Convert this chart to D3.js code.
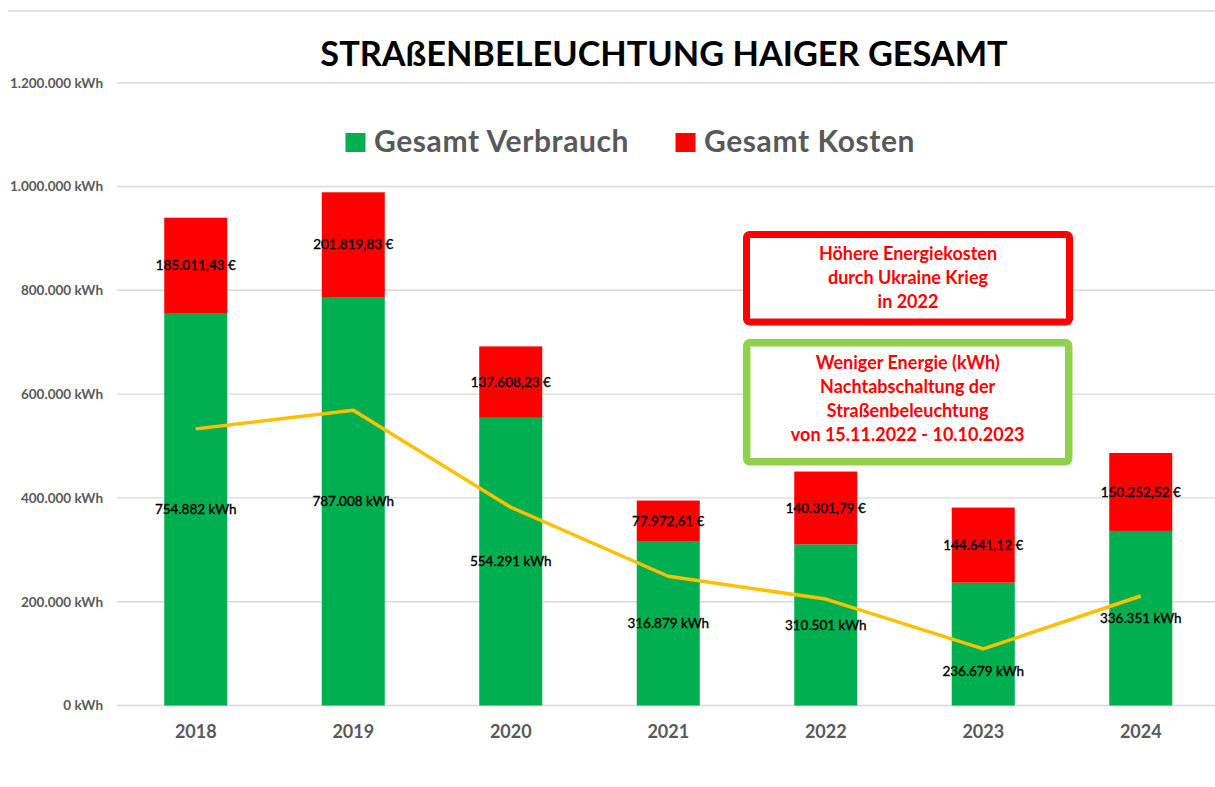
<!DOCTYPE html>
<html>
<head>
<meta charset="utf-8">
<script src="https://cdn.jsdelivr.net/npm/d3@7"></script>
<style>
  html, body { margin: 0; padding: 0; background: #fff; }
  svg { display: block; font-family: Lato, "Open Sans", sans-serif; }
</style>
</head>
<body>
<svg id="chart" width="1215" height="787"></svg>
<script>
// ---- data ----
const years = ["2018", "2019", "2020", "2021", "2022", "2023", "2024"];
const verbrauch = [754882, 787008, 554291, 316879, 310501, 236679, 336351];
const kosten = [185011.43, 201819.83, 137608.23, 77972.61, 140301.79, 144641.12, 150252.52];
const trend = [533000, 569000, 382000, 249000, 205000, 109000, 211000];
const yTicks = [0, 200000, 400000, 600000, 800000, 1000000, 1200000];
const seriesNames = ["Gesamt Verbrauch", "Gesamt Kosten"];
const titleText = "STRAßENBELEUCHTUNG HAIGER GESAMT";
const noteCost = ["Höhere Energiekosten", "durch Ukraine Krieg", "in 2022"];
const noteEnergy = ["Weniger Energie (kWh)", "Nachtabschaltung der", "Straßenbeleuchtung", "von 15.11.2022 - 10.10.2023"];

// ---- setup ----
const W = 1215, H = 787;
const svg = d3.select("#chart");
const de = d3.formatLocale({ decimal: ",", thousands: ".", grouping: [3], currency: ["", " €"] });
const fmtKwh = v => de.format(",.0f")(v) + " kWh";
const fmtEur = v => de.format(",.2f")(v) + " €";

const GREEN = "#00B050", RED = "#FF0000", LINE = "#FFC000", GRID = "#D9D9D9", AXIS_TXT = "#595959";

const x = d3.scaleBand().domain(years).range([117, 1219.5]).paddingInner(0.6).paddingOuter(0.3);
const y = d3.scaleLinear().domain([0, 1200000]).range([705.5, 82.7]);

// top border line
svg.append("line").attr("x1", 8).attr("x2", W).attr("y1", 11).attr("y2", 11)
  .attr("stroke", GRID).attr("stroke-width", 1.3);

// gridlines + y axis labels
const yAxis = d3.axisLeft(y).tickValues(yTicks).tickFormat(fmtKwh).tickSize(0).tickPadding(14);
const gy = svg.append("g").attr("transform", "translate(117,0)").call(yAxis);
gy.select(".domain").remove();
gy.selectAll("text").attr("fill", AXIS_TXT).attr("font-size", 13.5).attr("font-weight", "bold")
  .attr("font-family", "Lato, sans-serif").attr("dy", "0.32em");
svg.append("g").selectAll("line").data(yTicks).join("line")
  .attr("x1", 117).attr("x2", W).attr("y1", d => y(d)).attr("y2", d => y(d))
  .attr("stroke", GRID).attr("stroke-width", 1.4);

// x axis labels
const xAxis = d3.axisBottom(x).tickSize(0).tickPadding(20);
const gx = svg.append("g").attr("transform", `translate(0,${y(0)})`).call(xAxis);
gx.select(".domain").remove();
gx.selectAll("text").attr("fill", AXIS_TXT).attr("font-size", 18).attr("font-weight", "bold")
  .attr("font-family", "Lato, sans-serif");

// stacked bars
const rows = years.map((yr, i) => ({ year: yr, v: verbrauch[i], k: kosten[i], t: trend[i] }));
const g = svg.append("g");
g.selectAll("rect.v").data(rows).join("rect").attr("class", "v")
  .attr("x", d => x(d.year)).attr("width", x.bandwidth())
  .attr("y", d => y(d.v)).attr("height", d => y(0) - y(d.v)).attr("fill", GREEN);
g.selectAll("rect.k").data(rows).join("rect").attr("class", "k")
  .attr("x", d => x(d.year)).attr("width", x.bandwidth())
  .attr("y", d => y(d.v + d.k)).attr("height", d => y(d.v) - y(d.v + d.k)).attr("fill", RED);

// trend line
const line = d3.line().x(d => x(d.year) + x.bandwidth() / 2).y(d => y(d.t));
svg.append("path").datum(rows).attr("d", line).attr("fill", "none")
  .attr("stroke", LINE).attr("stroke-width", 3.5).attr("stroke-linejoin", "round");

// data labels
const cx = d => x(d.year) + x.bandwidth() / 2;
const greenLabelY = d => {
  const c = (y(0) + y(d.v)) / 2;
  const ly = y(d.t);
  return Math.abs(c - ly) < 12 ? ly + 22 : c;
};
const lbl = svg.append("g").attr("font-size", 13.5).attr("fill", "#000").attr("text-anchor", "middle")
  .attr("stroke", "#000").attr("stroke-width", 0.35)
  .attr("font-family", "Lato, sans-serif");
lbl.selectAll("text.v").data(rows).join("text").attr("class", "v")
  .attr("x", cx).attr("y", greenLabelY).attr("dy", "0.35em").text(d => fmtKwh(d.v));
lbl.selectAll("text.k").data(rows).join("text").attr("class", "k")
  .attr("x", cx).attr("y", d => (y(d.v) + y(d.v + d.k)) / 2).attr("dy", "0.35em").text(d => fmtEur(d.k));

// title
svg.append("text").attr("x", 664).attr("y", 66).attr("text-anchor", "middle")
  .attr("font-size", 34.3).attr("font-weight", "bold").attr("fill", "#000").text(titleText);

// legend
const legendItems = [
  { name: seriesNames[0], color: GREEN, x: 345.5 },
  { name: seriesNames[1], color: RED, x: 675.5 }
];
const lg = svg.append("g");
lg.selectAll("rect").data(legendItems).join("rect")
  .attr("x", d => d.x).attr("y", 133).attr("width", 20).attr("height", 19).attr("fill", d => d.color);
lg.selectAll("text").data(legendItems).join("text")
  .attr("x", d => d.x + 28.5).attr("y", 152).attr("font-size", 30).attr("font-weight", "bold")
  .attr("letter-spacing", 0.6).attr("fill", AXIS_TXT).text(d => d.name);

// annotation boxes
function note(lines, bx, by, bw, bh, stroke, sw, firstBase) {
  const ng = svg.append("g");
  ng.append("rect").attr("x", bx).attr("y", by).attr("width", bw).attr("height", bh)
    .attr("rx", 3).attr("fill", "#fff").attr("stroke", stroke).attr("stroke-width", sw);
  ng.selectAll("text").data(lines).join("text")
    .attr("x", bx + bw / 2).attr("y", (d, i) => firstBase + i * 24)
    .attr("text-anchor", "middle").attr("font-size", 18).attr("font-weight", "bold")
    .attr("fill", RED).text(d => d);
}
note(noteCost, 746.5, 234.5, 323, 87.5, RED, 7, 259.5);
note(noteEnergy, 746.7, 342.8, 322, 119, "#92D050", 7.5, 368.5);
</script>
</body>
</html>
